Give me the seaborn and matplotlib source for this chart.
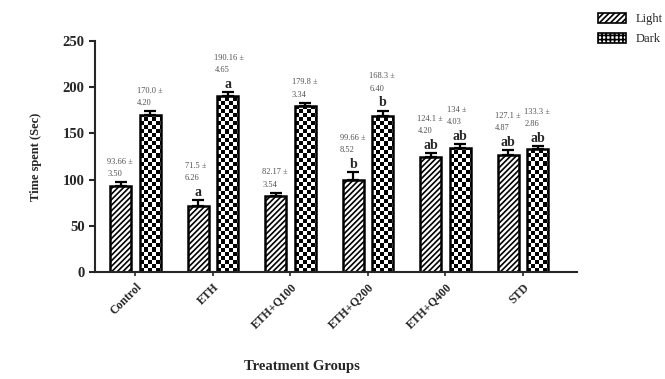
import numpy as np
import pandas as pd
import matplotlib
matplotlib.use("Agg")
import matplotlib.pyplot as plt
import seaborn as sns

# date
grupuri = ["Control", "ETH", "ETH+Q100", "ETH+Q200", "ETH+Q400", "STD"]
light = [93.66, 71.5, 82.17, 99.66, 124.1, 127.1]
light_err = [3.50, 6.26, 3.54, 8.52, 4.20, 4.87]
dark = [170.0, 190.16, 179.8, 168.3, 134, 133.3]
dark_err = [4.20, 4.65, 3.34, 6.40, 4.03, 2.86]
light_lit = ["", "a", "", "b", "ab", "ab"]
dark_lit = ["", "a", "", "b", "ab", "ab"]
light_txt = ["93.66 \u00b1\n3.50", "71.5 \u00b1\n6.26", "82.17 \u00b1\n3.54",
             "99.66 \u00b1\n8.52", "124.1 \u00b1\n4.20", "127.1 \u00b1\n4.87"]
dark_txt = ["170.0 \u00b1\n4.20", "190.16 \u00b1\n4.65", "179.8 \u00b1\n3.34",
            "168.3 \u00b1\n6.40", "134 \u00b1\n4.03", "133.3 \u00b1\n2.86"]

df = pd.DataFrame({
    "Grup": grupuri * 2,
    "Faza": ["Light"] * len(grupuri) + ["Dark"] * len(grupuri),
    "Timp": light + dark,
})

sns.set_style("ticks")
plt.rcParams["font.family"] = ["Liberation Serif", "DejaVu Serif"]
plt.rcParams["hatch.linewidth"] = 1.2

fig = plt.figure(figsize=(6.65, 3.79), dpi=100)
ax = fig.add_axes([0.143, 0.282, 0.725, 0.61])

sns.barplot(data=df, x="Grup", y="Timp", hue="Faza", order=grupuri,
            hue_order=["Light", "Dark"], palette=["white", "white"],
            width=0.76, gap=0.29, errorbar=None, edgecolor="black",
            linewidth=1.8, ax=ax)

ax.set_xlim(-0.52, 5.7)
ax.set_ylim(0, 250)

n = len(grupuri)
bare = ax.patches[:2 * n]

# model de tabla de sah pentru Dark (imagine taiata dupa bara)
pas_x, pas_y = 0.052, 4.4
for i, p in enumerate(bare):
    if i < n:
        p.set_hatch("//////")
        continue
    x0, w, h = p.get_x(), p.get_width(), p.get_height()
    nx = int(np.ceil(w / pas_x))
    ny = int(np.ceil(h / pas_y))
    tabla = (np.add.outer(np.arange(ny), np.arange(nx)) % 2).astype(float)
    im = ax.imshow(tabla, cmap="gray", extent=(x0, x0 + nx * pas_x, 0, ny * pas_y),
                   origin="lower", interpolation="nearest", aspect="auto", zorder=p.get_zorder() - 0.01)
    im.set_clip_path(p)
    p.set_facecolor("none")

seturi = [(light, light_err, light_lit, light_txt), (dark, dark_err, dark_lit, dark_txt)]
for k, (val, err, lit, txt) in enumerate(seturi):
    for j in range(n):
        p = bare[k * n + j]
        xc = p.get_x() + p.get_width() / 2
        ax.errorbar(xc, val[j], yerr=[[0], [err[j]]], fmt="none", ecolor="black",
                    elinewidth=1.6, capsize=4, capthick=1.6)
        top = val[j] + err[j]
        off = 3
        if lit[j]:
            ax.annotate(lit[j], (xc, top), xytext=(0, 1), textcoords="offset points",
                        ha="center", va="bottom", fontsize=10, fontweight="bold")
            off = 13
        ax.annotate(txt[j], (p.get_x(), top), xytext=(-2, off), textcoords="offset points",
                    ha="left", va="bottom", fontsize=6, color="#505050", linespacing=1.7)

ax.set_xlim(-0.52, 5.7)
ax.set_ylim(0, 250)
ax.set_yticks([0, 50, 100, 150, 200, 250])
ax.set_xlabel("Treatment Groups", fontsize=10.5, fontweight="bold", va="center")
ax.xaxis.set_label_coords(0.43, -0.41)
ax.set_ylabel("Time spent (Sec)", fontsize=9, fontweight="bold", labelpad=15)
ax.tick_params(axis="y", labelsize=10.5, width=1.5, length=4)
ax.tick_params(axis="x", labelsize=8.5, width=1.2, length=3)
for t in ax.get_yticklabels():
    t.set_fontweight("bold")
for t in ax.get_xticklabels():
    t.set_fontweight("bold")
    t.set_rotation(45)
    t.set_ha("right")
    t.set_rotation_mode("anchor")
sns.despine(ax=ax)
for s in ["left", "bottom"]:
    ax.spines[s].set_linewidth(1.5)

leg = ax.legend(loc="upper left", bbox_to_anchor=(1.02, 1.17), frameon=False,
                fontsize=9, handlelength=2.2, handleheight=0.9, labelspacing=0.6)
for h, hs in zip(leg.legend_handles, ["//////", "++++"]):
    h.set_edgecolor("black")
    h.set_linewidth(1.2)
    h.set_hatch(hs)

fig.savefig("out.png", dpi=100)
